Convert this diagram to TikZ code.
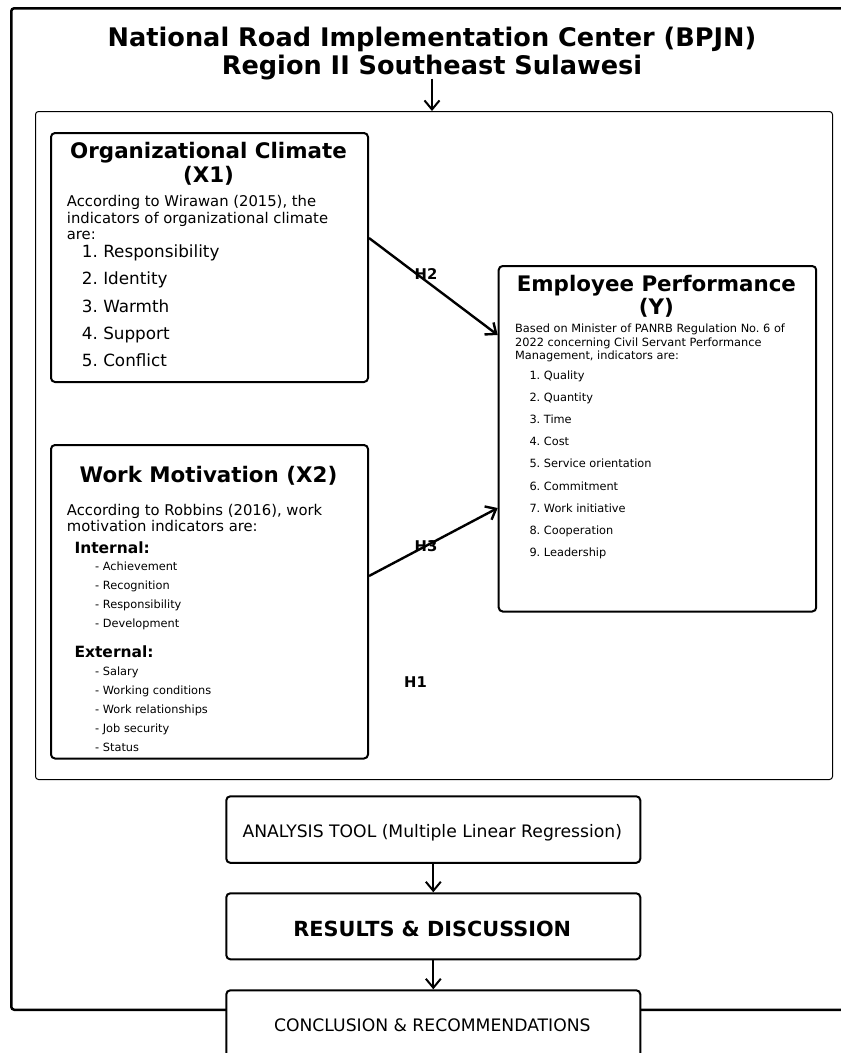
\documentclass[tikz,border=0pt]{standalone}
\usepackage{fontspec}
\setmainfont{DejaVu Sans}
\usetikzlibrary{arrows.meta,calc}
\frenchspacing
\newcommand\fTitle{\fontsize{25.6}{28}\selectfont\bfseries}
\newcommand\fHead{\fontsize{21.4}{24}\selectfont\bfseries}
\newcommand\fIntro{\fontsize{14.8}{16.5}\selectfont}
\newcommand\fList{\fontsize{16.8}{19}\selectfont}
\newcommand\fYsmall{\fontsize{11.35}{13.3}\selectfont}
\newcommand\fSub{\fontsize{15.5}{18}\selectfont\bfseries}
\newcommand\fHlab{\fontsize{14.8}{17}\selectfont\bfseries}
\newcommand\fBig{\fontsize{17.2}{20}\selectfont}
\newcommand\fRes{\fontsize{20.8}{24}\selectfont\bfseries}
\begin{document}
\begin{tikzpicture}[x=1pt,y=-1pt,
  box/.style={draw, line width=2pt, rounded corners=4pt, fill=white, inner sep=0pt, anchor=north west},
  arr/.style={line width=2.4pt, -{Straight Barb[length=9pt,width=15pt]}},
  txt/.style={inner sep=0pt, anchor=base west},
  ctxt/.style={inner sep=0pt, anchor=base},
]
\useasboundingbox (0,0) rectangle (841,1053);
\clip (0,0) rectangle (841,1053);
\fill[white] (0,0) rectangle (841,1053);
% outer frame
\node[draw, line width=2.5pt, rounded corners=3pt, anchor=north west, inner sep=0pt,
      minimum width=900pt, minimum height=1001.5pt] (frame) at (10,7) {};
% inner frame
\node[draw, line width=1pt, rounded corners=3pt, anchor=north west, inner sep=0pt,
      minimum width=797pt, minimum height=668pt] (inner) at (35,111) {};
% title
\node[ctxt, font=\fTitle] (t1) at (432,46) {National Road Implementation Center (BPJN)};
\node[ctxt, font=\fTitle] (t2) at (432,74.5) {Region II Southeast Sulawesi};
\coordinate (tarr) at (432,78.5);
\draw[arr, line width=2pt] (tarr) -- (tarr |- inner.north);

% X1 box
\node[box, minimum width=317pt, minimum height=249pt] (x1) at (50,132) {};
\node[ctxt, font=\fHead] (x1h1) at (208.5,158.3) {Organizational Climate};
\node[ctxt, font=\fHead] (x1h2) at (208.5,182.3) {(X1)};
\node[txt, font=\fIntro] (x1a) at (66.7,206.7) {According to Wirawan (2015), the};
\node[txt, font=\fIntro] (x1b) at (66.7,223.2) {indicators of organizational climate};
\node[txt, font=\fIntro] (x1c) at (66.7,239.2) {are:};
\foreach \t [count=\i from 0] in {1. Responsibility, 2. Identity, 3. Warmth, 4. Support, 5. Conflict}
  \node[txt, font=\fList] (x1l\i) at (81.7,257.7+27.2*\i) {\t};

% Y box
\node[box, minimum width=317.5pt, minimum height=345.5pt] (y) at (497.7,265) {};
\node[ctxt, font=\fHead] (yh1) at (656.4,291) {Employee Performance};
\node[ctxt, font=\fHead] (yh2) at (656.4,314.3) {(Y)};
\node[txt, font=\fYsmall] (ya) at (515,332.7) {Based on Minister of PANRB Regulation No. 6 of};
\node[txt, font=\fYsmall] (yb) at (515,346) {2022 concerning Civil Servant Performance};
\node[txt, font=\fYsmall] (yc) at (515,359.3) {Management, indicators are:};
\foreach \t [count=\i from 0] in {1. Quality, 2. Quantity, 3. Time, 4. Cost, 5. Service orientation, 6. Commitment, 7. Work initiative, 8. Cooperation, 9. Leadership}
  \node[txt, font=\fYsmall] (yl\i) at (529.3,379+22.2*\i) {\t};

% X2 box
\node[box, minimum width=317pt, minimum height=313.5pt] (x2) at (50,444) {};
\node[ctxt, font=\fHead] (x2h) at (208.5,482.3) {Work Motivation (X2)};
\node[txt, font=\fIntro] (x2a) at (66.7,515) {According to Robbins (2016), work};
\node[txt, font=\fIntro] (x2b) at (66.7,531.7) {motivation indicators are:};
\node[txt, font=\fSub] (x2int) at (74.3,553.3) {Internal:};
\foreach \t [count=\i from 0] in {- Achievement, - Recognition, - Responsibility, - Development}
  \node[txt, font=\fYsmall] (x2i\i) at (95,570+19.1*\i) {\t};
\node[txt, font=\fSub] (x2ext) at (74.3,657.3) {External:};
\foreach \t [count=\i from 0] in {- Salary, - Working conditions, - Work relationships, - Job security, - Status}
  \node[txt, font=\fYsmall] (x2e\i) at (95,675+19.2*\i) {\t};

% hypothesis arrows
\draw[arr] ($(x1.north east)+(0,106)$) -- ($(y.north west)+(0,70)$);
\draw[arr] ($(x2.north east)+(0,132)$) -- ($(y.north west)+(0,243)$);
\node[ctxt, font=\fHlab] (h2) at (426,279.3) {H2};
\node[ctxt, font=\fHlab] (h3) at (426,551.7) {H3};
\node[ctxt, font=\fHlab] (h1) at (415.5,687.3) {H1};

% bottom flow
\node[box, minimum width=414pt, minimum height=66.5pt] (ana) at (225.3,795.3) {};
\node[ctxt, font=\fBig] (anat) at (432.3,837.3) {ANALYSIS TOOL (Multiple Linear Regression)};
\node[box, minimum width=414pt, minimum height=66pt] (res) at (225.3,892.3) {};
\node[ctxt, font=\fRes] (rest) at (432.3,936.7) {RESULTS \& DISCUSSION};
\node[box, minimum width=414pt, minimum height=100pt] (con) at (225.3,989.3) {};
\node[ctxt, font=\fBig] (cont) at (432.3,1031) {CONCLUSION \& RECOMMENDATIONS};
\draw[arr, line width=2pt] (ana.south) -- (res.north);
\draw[arr, line width=2pt] (res.south) -- (con.north);
\end{tikzpicture}
\end{document}
